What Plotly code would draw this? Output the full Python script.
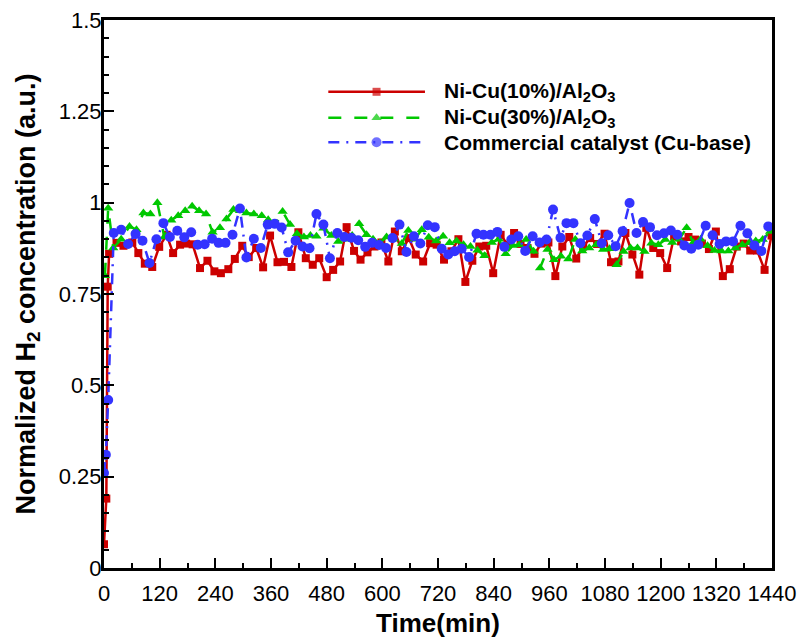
import plotly.graph_objects as go

# H2 concentration vs time for the three catalysts
red_t = [0, 5, 8, 11, 27, 42, 61, 74, 88, 104, 119, 135, 149, 164, 177, 191, 207, 223, 238,
         252, 268, 282, 298, 312, 328, 343, 358, 374, 388, 404, 419, 435, 450, 464, 480, 494,
         509, 523, 539, 553, 568, 583, 598, 613, 627, 642, 657, 672, 688, 703, 717, 733, 749,
         764, 779, 794, 809, 824, 839, 855, 870, 884, 898, 913, 928, 943, 958, 973, 988, 1003,
         1018, 1033, 1048, 1063, 1079, 1093, 1109, 1124, 1139, 1154, 1169, 1184, 1199, 1214,
         1229, 1244, 1260, 1274, 1289, 1304, 1319, 1334, 1349, 1364, 1379, 1393, 1408, 1424,
         1439]
red_v = [0.065, 0.19, 0.77, 0.86, 0.89, 0.882, 0.891, 0.862, 0.833, 0.824, 0.879, 0.912,
         0.862, 0.885, 0.888, 0.886, 0.821, 0.841, 0.812, 0.807, 0.818, 0.846, 0.882, 0.851,
         0.876, 0.823, 0.910, 0.837, 0.838, 0.824, 0.919, 0.848, 0.830, 0.848, 0.796, 0.816,
         0.839, 0.933, 0.868, 0.844, 0.864, 0.880, 0.891, 0.839, 0.921, 0.867, 0.903, 0.858,
         0.839, 0.889, 0.885, 0.844, 0.867, 0.900, 0.783, 0.841, 0.880, 0.882, 0.807, 0.912,
         0.885, 0.917, 0.887, 0.876, 0.860, 0.888, 0.891, 0.799, 0.880, 0.906, 0.847, 0.880,
         0.903, 0.887, 0.915, 0.837, 0.839, 0.917, 0.858, 0.803, 0.931, 0.876, 0.862, 0.821,
         0.908, 0.894, 0.906, 0.899, 0.888, 0.873, 0.921, 0.799, 0.818, 0.880, 0.888, 0.869,
         0.869, 0.816, 0.910]

green_t = [2, 9, 20, 37, 55, 70, 85, 100, 115, 130, 145, 160, 175, 190, 205, 220, 234, 250,
           264, 279, 293, 307, 323, 340, 354, 370, 385, 401, 416, 431, 445, 458, 473, 490, 505,
           520, 535, 550, 566, 580, 595, 609, 625, 642, 656, 670, 685, 700, 716, 731, 745, 760,
           775, 790, 805, 820, 836, 851, 866, 881, 895, 910, 926, 940, 956, 970, 985, 1001,
           1016, 1031, 1046, 1061, 1076, 1090, 1105, 1120, 1135, 1150, 1165, 1180, 1195, 1210,
           1225, 1240, 1256, 1270, 1286, 1301, 1316, 1331, 1346, 1361, 1376, 1391, 1405, 1420,
           1436]
green_v = [0.80, 0.985, 0.876, 0.90, 0.935, 0.926, 0.972, 0.969, 1.0, 0.906, 0.952, 0.964,
           0.978, 0.99, 0.978, 0.969, 0.919, 0.931, 0.955, 0.981, 0.978, 0.972, 0.969, 0.964,
           0.953, 0.94, 0.976, 0.94, 0.915, 0.906, 0.91, 0.908, 0.93, 0.91, 0.894, 0.90, 0.91,
           0.942, 0.912, 0.90, 0.89, 0.906, 0.90, 0.888, 0.924, 0.90, 0.926, 0.905, 0.895,
           0.908, 0.89, 0.895, 0.885, 0.880, 0.87, 0.855, 0.891, 0.90, 0.860, 0.883, 0.885,
           0.899, 0.867, 0.821, 0.872, 0.844, 0.853, 0.846, 0.899, 0.868, 0.876, 0.885, 0.872,
           0.874, 0.830, 0.866, 0.876, 0.876, 0.866, 0.889, 0.885, 0.899, 0.891, 0.900, 0.931,
           0.89, 0.900, 0.882, 0.869, 0.868, 0.868, 0.876, 0.885, 0.890, 0.895, 0.899, 0.921]

blue_t = [0, 4, 9, 21, 37, 52, 68, 83, 98, 113, 128, 142, 158, 173, 188, 202, 217, 233, 247,
          262, 277, 293, 307, 323, 338, 353, 368, 383, 397, 413, 428, 443, 458, 473, 487, 503,
          518, 533, 548, 563, 578, 593, 608, 622, 637, 652, 668, 682, 698, 713, 728, 742, 756,
          771, 787, 803, 818, 833, 848, 863, 878, 893, 908, 924, 939, 954, 968, 984, 997, 1012,
          1027, 1042, 1058, 1073, 1087, 1103, 1118, 1133, 1148, 1162, 1177, 1192, 1207, 1222,
          1236, 1251, 1266, 1281, 1297, 1312, 1327, 1341, 1356, 1372, 1387, 1402, 1417, 1432]
blue_v = [0.26, 0.31, 0.46, 0.917, 0.926, 0.887, 0.914, 0.896, 0.835, 0.90, 0.944, 0.906,
          0.923, 0.905, 0.919, 0.885, 0.886, 0.901, 0.89, 0.89, 0.912, 0.984, 0.85, 0.901,
          0.876, 0.94, 0.942, 0.932, 0.864, 0.896, 0.88, 0.875, 0.969, 0.94, 0.848, 0.917,
          0.906, 0.904, 0.897, 0.879, 0.89, 0.884, 0.876, 0.903, 0.94, 0.865, 0.908, 0.888,
          0.938, 0.933, 0.874, 0.858, 0.867, 0.874, 0.851, 0.915, 0.912, 0.912, 0.92, 0.879,
          0.899, 0.908, 0.868, 0.908, 0.891, 0.899, 0.981, 0.904, 0.944, 0.944, 0.889, 0.91,
          0.955, 0.889, 0.911, 0.881, 0.922, 0.999, 0.917, 0.947, 0.933, 0.911, 0.916, 0.924,
          0.912, 0.883, 0.874, 0.885, 0.937, 0.911, 0.887, 0.894, 0.894, 0.937, 0.916, 0.883,
          0.868, 0.935]

names = ["Ni-Cu(10%)/Al<sub>2</sub>O<sub>3</sub>",
         "Ni-Cu(30%)/Al<sub>2</sub>O<sub>3</sub>",
         "Commercial catalyst (Cu-base)"]
x_ticks = list(range(0, 1441, 120))
y_ticks = [0, 0.25, 0.5, 0.75, 1, 1.25, 1.5]
y_tick_text = ["0", "0.25", "0.5", "0.75", "1", "1.25", "1.5"]

FONT = "Liberation Sans, Arial, sans-serif"
styles = [
    dict(color="#CC0000", dash="solid", symbol="square", size=8),
    dict(color="#00C800", dash="13px,13px", symbol="triangle-up", size=9),
    dict(color="#3333FF", dash="11px,7px,2px,7px", symbol="circle", size=10),
]
series = [(red_t, red_v), (green_t, green_v), (blue_t, blue_v)]

fig = go.Figure()
for (t, v), st, nm in zip(series, styles, names):
    fig.add_trace(go.Scatter(
        x=t, y=v, mode="lines+markers", name=nm, showlegend=False,
        line=dict(color=st["color"], width=2.5, dash=st["dash"]),
        marker=dict(symbol=st["symbol"], size=st["size"], color=st["color"],
                    line=dict(width=0)),
    ))

# key drawn on an overlay axis spanning the plot area (0..1 in both directions)
key_rows = [0.869, 0.8214, 0.7768]
key_x0, key_xm, key_x1 = 0.3358, 0.408, 0.4805
for row, st, nm in zip(key_rows, styles, names):
    fig.add_trace(go.Scatter(
        x=[key_x0, key_xm, key_x1], y=[row, row, row], xaxis="x2", yaxis="y2",
        mode="lines+markers", showlegend=False, hoverinfo="skip",
        line=dict(color=st["color"], width=2.5, dash=st["dash"]),
        marker=dict(symbol=st["symbol"], size=[0, st["size"], 0], color=st["color"],
                    line=dict(width=0)),
    ))
    fig.add_annotation(x=0.5055, y=row, xref="paper", yref="paper", text="<b>%s</b>" % nm,
                       showarrow=False, xanchor="left", yanchor="middle",
                       font=dict(family=FONT, size=21, color="black"))

axis_common = dict(
    showline=True, linecolor="black", linewidth=3, mirror=True,
    ticks="inside", ticklen=10, tickwidth=2, tickcolor="black",
    showgrid=False, zeroline=False, automargin=False,
    tickfont=dict(family=FONT, size=22, color="black"),
)
fig.update_layout(
    width=800, height=638,
    margin=dict(l=104, r=28, t=20, b=70),
    plot_bgcolor="white", paper_bgcolor="white",
    xaxis=dict(range=[0, 1440], tickvals=x_ticks, ticklabelstandoff=4,
               minor=dict(dtick=60, ticks="inside", ticklen=5, tickwidth=1.5, tickcolor="black"),
               title=dict(text="<b>Time(min)</b>", standoff=10,
                          font=dict(family=FONT, size=26, color="black")),
               **axis_common),
    yaxis=dict(range=[0, 1.5], tickvals=y_ticks, ticktext=y_tick_text, ticklabelstandoff=-5,
               minor=dict(dtick=0.05, ticks="inside", ticklen=5, tickwidth=1.5, tickcolor="black"),
               title=dict(text="<b>Normalized H<sub>2</sub> concentration (a.u.)</b>", standoff=16,
                          font=dict(family=FONT, size=27, color="black")),
               **axis_common),
    xaxis2=dict(range=[0, 1], overlaying="x", visible=False),
    yaxis2=dict(range=[0, 1], overlaying="y", visible=False),
)

fig.write_html("out.html")
